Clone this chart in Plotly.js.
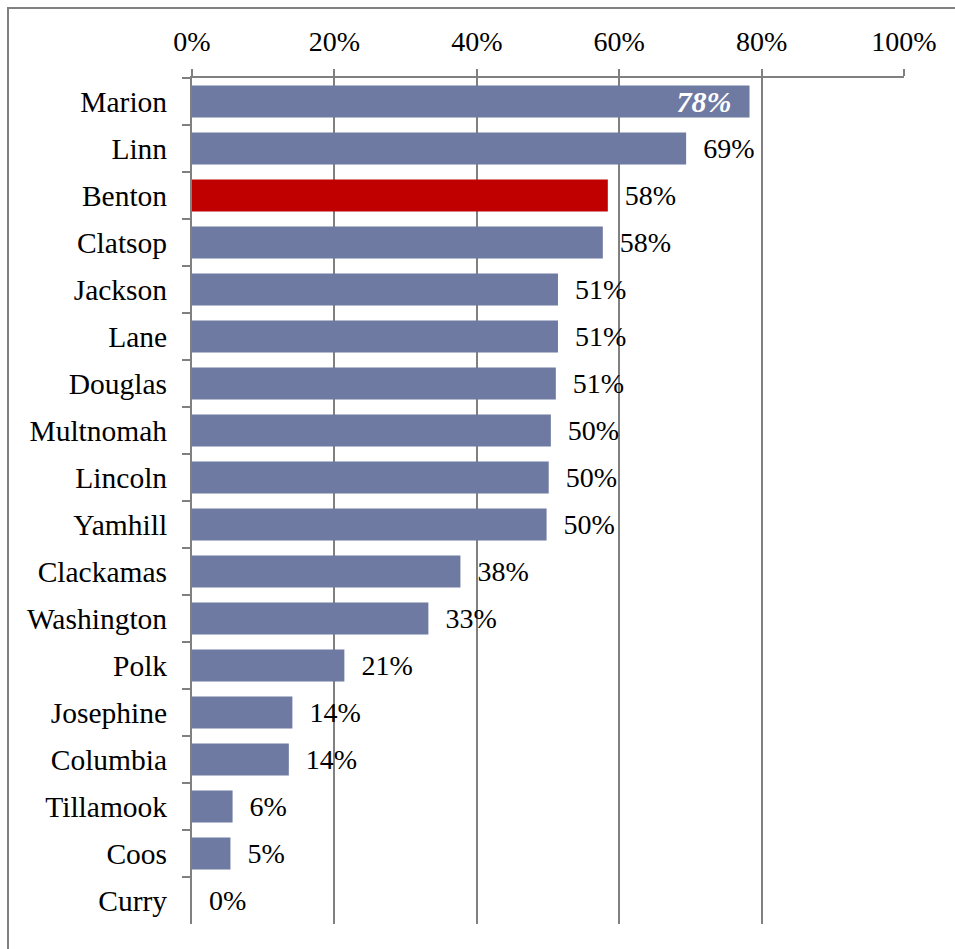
<!DOCTYPE html>
<html>
<head>
<meta charset="utf-8">
<script src="https://cdn.plot.ly/plotly-3.0.1.min.js"></script>
<style>
  html, body { margin: 0; padding: 0; overflow: hidden; background: #fff; }
  #wrap { position: relative; width: 955px; height: 949px; overflow: hidden; }
  #frame { position: absolute; left: 7px; top: 7px; width: 1000px; height: 1000px;
           border-left: 2px solid #808080; border-top: 2px solid #808080; pointer-events: none; }
  #chart { position: absolute; left: 0; top: 0; width: 955px; height: 949px; }
</style>
</head>
<body>
<div id="wrap">
  <div id="chart"></div>
  <div id="frame"></div>
</div>
<script>
const counties = ["Marion","Linn","Benton","Clatsop","Jackson","Lane","Douglas","Multnomah","Lincoln","Yamhill","Clackamas","Washington","Polk","Josephine","Columbia","Tillamook","Coos","Curry"];
const percents = [78.3, 69.4, 58.4, 57.7, 51.4, 51.4, 51.1, 50.4, 50.1, 49.8, 37.7, 33.2, 21.4, 14.1, 13.6, 5.7, 5.4, 0];
const highlightCounty = "Benton";
const xTickValues = [0, 20, 40, 60, 80, 100];

const baseColor = "#6F7AA2";
const highlightColor = "#C00000";
const NB = "\u00a0";

const colors = counties.map(c => c === highlightCounty ? highlightColor : baseColor);
const labels = percents.map((v, i) => i === 0
  ? "<b><i>" + Math.round(v) + "%</i>" + NB + NB + "</b>"
  : NB + NB + Math.round(v) + "%");
const positions = percents.map((v, i) => i === 0 ? "inside" : "outside");

const fontFam = "Liberation Serif";

const trace = {
  type: "bar",
  orientation: "h",
  y: counties,
  x: percents,
  marker: { color: colors, line: { width: 0 } },
  text: labels,
  textposition: positions,
  insidetextanchor: "end",
  insidetextfont: { family: fontFam, size: 30, color: "#ffffff" },
  outsidetextfont: { family: fontFam, size: 28, color: "#000000" },
  constraintext: "none",
  cliponaxis: false,
  hoverinfo: "none"
};

const layout = {
  width: 955,
  height: 949,
  margin: { l: 192, r: 51, t: 78, b: 25, pad: 0 },
  paper_bgcolor: "#ffffff",
  plot_bgcolor: "#ffffff",
  font: { family: fontFam, size: 28, color: "#000000" },
  bargap: 0.32,
  showlegend: false,
  xaxis: {
    side: "top",
    range: [0, 100],
    tickvals: xTickValues,
    ticktext: xTickValues.map(v => v + "%"),
    showgrid: true,
    gridcolor: "#808080",
    gridwidth: 2,
    zeroline: false,
    showline: true,
    linecolor: "#808080",
    linewidth: 2,
    ticks: "outside",
    ticklen: 7,
    tickwidth: 2,
    tickcolor: "#808080",
    ticklabelstandoff: 7,
    tickfont: { family: fontFam, size: 28, color: "#000" },
    fixedrange: true
  },
  yaxis: {
    type: "category",
    autorange: "reversed",
    showgrid: false,
    zeroline: false,
    showline: true,
    linecolor: "#808080",
    linewidth: 2,
    ticks: "outside",
    tickson: "boundaries",
    ticklen: 8,
    tickwidth: 2,
    tickcolor: "#808080",
    ticklabelstandoff: 17,
    tickfont: { family: fontFam, size: 29.5, color: "#000" },
    fixedrange: true
  }
};

Plotly.newPlot("chart", [trace], layout, { displayModeBar: false, staticPlot: true });
</script>
</body>
</html>
